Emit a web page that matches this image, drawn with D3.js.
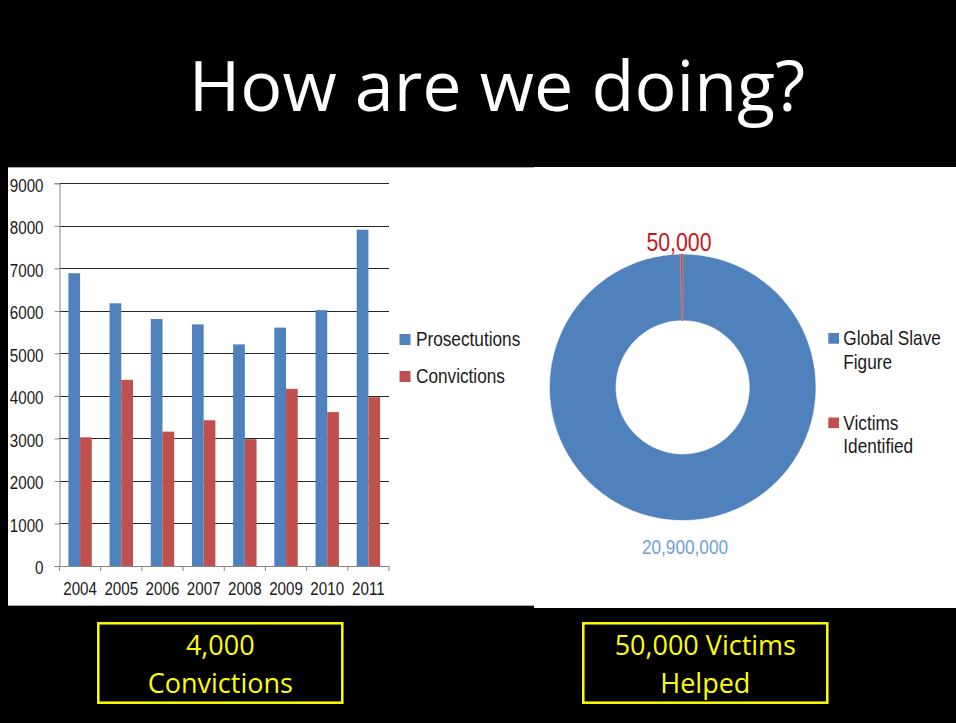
<!DOCTYPE html>
<html>
<head>
<meta charset="utf-8">
<script src="https://cdn.jsdelivr.net/npm/d3@7"></script>
<style>
  body { margin: 0; background: #000; }
  svg { display: block; }
  .narrow { font-family: "Liberation Sans", Arial, sans-serif; }
  .slide { font-family: "Open Sans", sans-serif; }
</style>
</head>
<body>
<svg width="956" height="723"></svg>
<script>
// data
const years = ["2004", "2005", "2006", "2007", "2008", "2009", "2010", "2011"];
const prosecutions = [6885, 6178, 5808, 5682, 5212, 5606, 6017, 7909];
const convictions = [3026, 4379, 3160, 3427, 2983, 4166, 3619, 3969];
const seriesNames = ["Prosectutions", "Convictions"];
const yTicks = [0, 1000, 2000, 3000, 4000, 5000, 6000, 7000, 8000, 9000];

const donutNames = ["Global Slave Figure", "Victims Identified"];
const donutValues = [20900000, 50000];
const donutLegend = [["Global Slave", "Figure"], ["Victims", "Identified"]];

const title = "How are we doing?";
const boxTexts = [["4,000", "Convictions"], ["50,000 Victims", "Helped"]];

const blue = "#4f81bd";
const red = "#c0504d";

const svg = d3.select("svg");

// squeeze text horizontally around its anchor so Liberation Sans looks like a narrow face
function narrow(sel) {
  sel.attr("transform", function () {
    const ax = +this.getAttribute("x") || 0;
    return `translate(${ax * 0.18},0) scale(0.82,1)`;
  });
}

// title on black
svg.append("text")
  .attr("class", "slide")
  .attr("x", 497)
  .attr("y", 111)
  .attr("text-anchor", "middle")
  .attr("fill", "#fff")
  .attr("font-size", 70)
  .text(title);

// white panels behind the two charts
svg.append("rect")
  .attr("x", 534).attr("y", 167)
  .attr("width", 422).attr("height", 441)
  .attr("fill", "#fff");
svg.append("rect")
  .attr("x", 8).attr("y", 167)
  .attr("width", 526).attr("height", 439)
  .attr("fill", "#fff");
// thin grey lines on top and bottom of the left panel
svg.append("g")
  .selectAll("line")
  .data([167.5, 605.5])
  .join("line")
  .attr("x1", 8).attr("x2", 534)
  .attr("y1", (d) => d).attr("y2", (d) => d)
  .attr("stroke", "#a6a6a6");

// ---- bar chart ----
const plot = { left: 59.5, right: 389, top: 183.3, bottom: 566 };

const x = d3.scaleBand()
  .domain(years)
  .range([plot.left, plot.right])
  .padding(0);

const xInner = d3.scaleBand()
  .domain(seriesNames)
  .range([0, x.bandwidth()])
  .paddingInner(0)
  .paddingOuter(0.76);

const y = d3.scaleLinear()
  .domain([0, 9000])
  .range([plot.bottom, plot.top]);

const bars = svg.append("g");

// gridlines
bars.append("g")
  .selectAll("line")
  .data(yTicks.filter((d) => d > 0))
  .join("line")
  .attr("x1", plot.left)
  .attr("x2", plot.right)
  .attr("y1", (d) => Math.round(y(d)) + 0.5)
  .attr("y2", (d) => Math.round(y(d)) + 0.5)
  .attr("stroke", "#262626")
  .attr("stroke-width", 1.2);

// y axis
const yAxis = bars.append("g")
  .attr("class", "narrow")
  .attr("transform", `translate(${plot.left},0)`)
  .call(d3.axisLeft(y).tickValues(yTicks).tickSize(5).tickPadding(11).tickFormat(d3.format("d")));
yAxis.select(".domain").attr("stroke", "#868686");
yAxis.selectAll(".tick line").attr("stroke", "#868686");
yAxis.selectAll(".tick text")
  .attr("font-size", 18.5)
  .attr("fill", "#1a1a1a")
  .attr("dy", "0.42em")
  .call(narrow);

// grouped bars
const rows = years.map((yr, i) => ({ year: yr, values: [prosecutions[i], convictions[i]] }));
bars.append("g")
  .selectAll("g")
  .data(rows)
  .join("g")
  .attr("transform", (d) => `translate(${x(d.year)},0)`)
  .selectAll("rect")
  .data((d) => d.values.map((v, k) => ({ key: seriesNames[k], value: v })))
  .join("rect")
  .attr("x", (d) => xInner(d.key))
  .attr("y", (d) => y(d.value))
  .attr("width", xInner.bandwidth())
  .attr("height", (d) => y(0) - y(d.value))
  .attr("fill", (d) => (d.key === seriesNames[0] ? blue : red));

// x axis with ticks between the categories
const xAxis = bars.append("g")
  .attr("class", "narrow")
  .attr("transform", `translate(0,${plot.bottom})`)
  .call(d3.axisBottom(x).tickSize(0).tickPadding(16));
xAxis.select(".domain").attr("stroke", "#868686");
xAxis.selectAll(".tick text")
  .attr("font-size", 18.5)
  .attr("fill", "#1a1a1a")
  .call(narrow);
xAxis.append("g")
  .selectAll("line")
  .data(years.concat(["end"]))
  .join("line")
  .attr("x1", (d, i) => (i < years.length ? x(d) : plot.right))
  .attr("x2", (d, i) => (i < years.length ? x(d) : plot.right))
  .attr("y1", 0)
  .attr("y2", 5)
  .attr("stroke", "#868686");

// legend for bars
const barLegend = svg.append("g")
  .attr("class", "narrow")
  .selectAll("g")
  .data(seriesNames)
  .join("g")
  .attr("transform", (d, i) => `translate(399.5,${334 + i * 37})`);
barLegend.append("rect")
  .attr("width", 11)
  .attr("height", 11)
  .attr("fill", (d, i) => (i === 0 ? blue : red));
barLegend.append("text")
  .attr("x", 16.5)
  .attr("y", 12)
  .attr("font-size", 21)
  .attr("fill", "#1a1a1a")
  .text((d) => d)
  .call(narrow);

// ---- donut chart ----
const cx = 682.7, cy = 387.3, outer = 133.3;

const pie = d3.pie().sort(null).value((d) => d);
const arc = d3.arc().innerRadius(outer / 2).outerRadius(outer);

const donut = svg.append("g").attr("transform", `translate(${cx},${cy})`);
donut.selectAll("path")
  .data(pie(donutValues))
  .join("path")
  .attr("d", arc)
  .attr("fill", (d, i) => (i === 0 ? blue : red))
  .attr("stroke", (d, i) => (i === 0 ? "#fff" : red))
  .attr("stroke-width", 0.6);

// value labels
svg.append("text")
  .attr("class", "narrow")
  .attr("x", 679)
  .attr("y", 251)
  .attr("text-anchor", "middle")
  .attr("font-size", 26)
  .attr("fill", "#c8161d")
  .text(d3.format(",")(donutValues[1]))
  .call(narrow);
svg.append("text")
  .attr("class", "narrow")
  .attr("x", 685)
  .attr("y", 554)
  .attr("text-anchor", "middle")
  .attr("font-size", 21)
  .attr("fill", "#6f9fdb")
  .text(d3.format(",")(donutValues[0]))
  .call(narrow);

// legend for donut
const donutLeg = svg.append("g")
  .attr("class", "narrow")
  .selectAll("g")
  .data(donutNames)
  .join("g")
  .attr("transform", (d, i) => `translate(828.3,${333 + i * 84.5})`);
donutLeg.append("rect")
  .attr("width", 10.7)
  .attr("height", 10.7)
  .attr("fill", (d, i) => (i === 0 ? blue : red));
donutLeg.append("g")
  .selectAll("text")
  .data((d, i) => donutLegend[i])
  .join("text")
  .attr("x", 15)
  .attr("y", (d, k) => 12 + k * 24)
  .attr("font-size", 21)
  .attr("fill", "#1a1a1a")
  .text((d) => d)
  .call(narrow);

// ---- yellow boxes at the bottom ----
const boxes = svg.append("g")
  .selectAll("g")
  .data(boxTexts)
  .join("g")
  .attr("transform", (d, i) => `translate(${i === 0 ? 98.3 : 583.3},623.3)`);
boxes.append("rect")
  .attr("width", 244)
  .attr("height", 79.4)
  .attr("fill", "none")
  .attr("stroke", "#ffff00")
  .attr("stroke-width", 2.5);
boxes.append("text")
  .attr("class", "slide")
  .attr("text-anchor", "middle")
  .attr("font-size", 27)
  .attr("fill", "#ffff00")
  .selectAll("tspan")
  .data((d) => d)
  .join("tspan")
  .attr("x", 122)
  .attr("y", (d, k) => (k === 0 ? 31.7 : 69.4))
  .text((d) => d);
</script>
</body>
</html>
